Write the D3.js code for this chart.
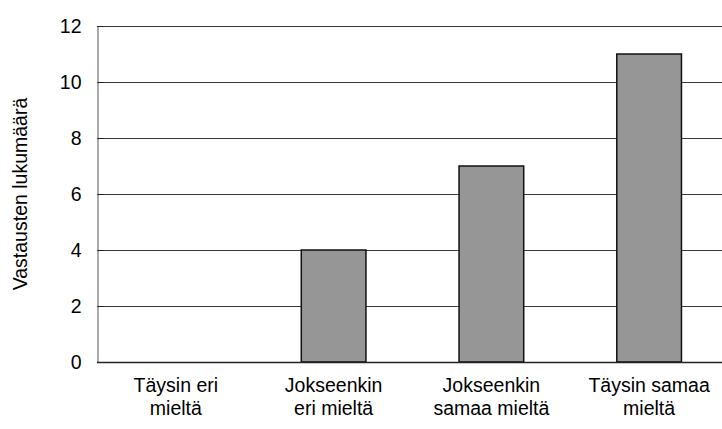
<!DOCTYPE html>
<html>
<head>
<meta charset="utf-8">
<script src="https://cdn.jsdelivr.net/npm/d3@7"></script>
<style>
  html, body { margin: 0; padding: 0; background: #fff; }
  svg { display: block; font-family: "Liberation Sans", Arial, sans-serif; }
</style>
</head>
<body>
<svg id="chart" width="722" height="429"></svg>
<script>
// Survey answers: number of responses per agreement level
const categories = [
  ["Täysin eri", "mieltä"],
  ["Jokseenkin", "eri mieltä"],
  ["Jokseenkin", "samaa mieltä"],
  ["Täysin samaa", "mieltä"]
];
const counts = [0, 4, 7, 11];
const yTicks = [0, 2, 4, 6, 8, 10, 12];
const yTitle = "Vastausten lukumäärä";

const svg = d3.select("#chart");
const W = 722;
const FS = 19.5;
const plot = { left: 97, right: 728, top: 26, bottom: 362 };

const keys = categories.map((c, i) => i);
const x = d3.scaleBand()
  .domain(keys)
  .range([plot.left, plot.right])
  .paddingInner(0.59)
  .paddingOuter(0.295);

const y = d3.scaleLinear()
  .domain([0, 12])
  .range([plot.bottom, plot.top]);

// horizontal gridlines, running to the edge of the window
svg.append("g")
  .selectAll("line")
  .data(yTicks.filter(d => d > 0))
  .join("line")
  .attr("x1", plot.left)
  .attr("x2", W)
  .attr("y1", d => Math.round(y(d)) + 0.5)
  .attr("y2", d => Math.round(y(d)) + 0.5)
  .attr("stroke", "#3a3a3a")
  .attr("stroke-width", 1);

// bars
svg.append("g")
  .selectAll("rect")
  .data(counts.map((v, i) => ({ v, i })).filter(d => d.v > 0))
  .join("rect")
  .attr("x", d => x(d.i))
  .attr("width", x.bandwidth())
  .attr("y", d => y(d.v))
  .attr("height", d => y(0) - y(d.v))
  .attr("fill", "#969696")
  .attr("stroke", "#111")
  .attr("stroke-width", 1.5);

// y axis with tick labels
const yAxis = d3.axisLeft(y)
  .tickValues(yTicks)
  .tickSize(-6)
  .tickPadding(16)
  .tickFormat(d3.format("d"));

const gy = svg.append("g")
  .attr("transform", `translate(${plot.left + 0.5},0)`)
  .call(yAxis)
  .attr("font-size", FS)
  .attr("font-family", "Liberation Sans, Arial, sans-serif");
gy.select(".domain").attr("stroke", "#555");
gy.selectAll(".tick line").attr("stroke", "#222");
gy.selectAll(".tick text").attr("fill", "#000");

// baseline
svg.append("line")
  .attr("x1", plot.left)
  .attr("x2", W)
  .attr("y1", Math.round(y(0)) + 0.5)
  .attr("y2", Math.round(y(0)) + 0.5)
  .attr("stroke", "#222")
  .attr("stroke-width", 1.5);

// category labels, two lines each
const xl = svg.append("g")
  .attr("font-size", FS)
  .selectAll("text")
  .data(categories.map((c, i) => ({ c, i })))
  .join("text")
  .attr("text-anchor", "middle")
  .attr("fill", "#000")
  .attr("x", d => x(d.i) + x.bandwidth() / 2)
  .attr("y", 392);
xl.selectAll("tspan")
  .data(d => d.c.map(t => ({ t, cx: x(d.i) + x.bandwidth() / 2 })))
  .join("tspan")
  .attr("x", d => d.cx)
  .attr("dy", (d, j) => j === 0 ? 0 : 23)
  .text(d => d.t);

// y axis title
svg.append("text")
  .attr("transform", `translate(27,${(plot.top + plot.bottom) / 2}) rotate(-90)`)
  .attr("text-anchor", "middle")
  .attr("font-size", FS)
  .attr("fill", "#000")
  .text(yTitle);
</script>
</body>
</html>
